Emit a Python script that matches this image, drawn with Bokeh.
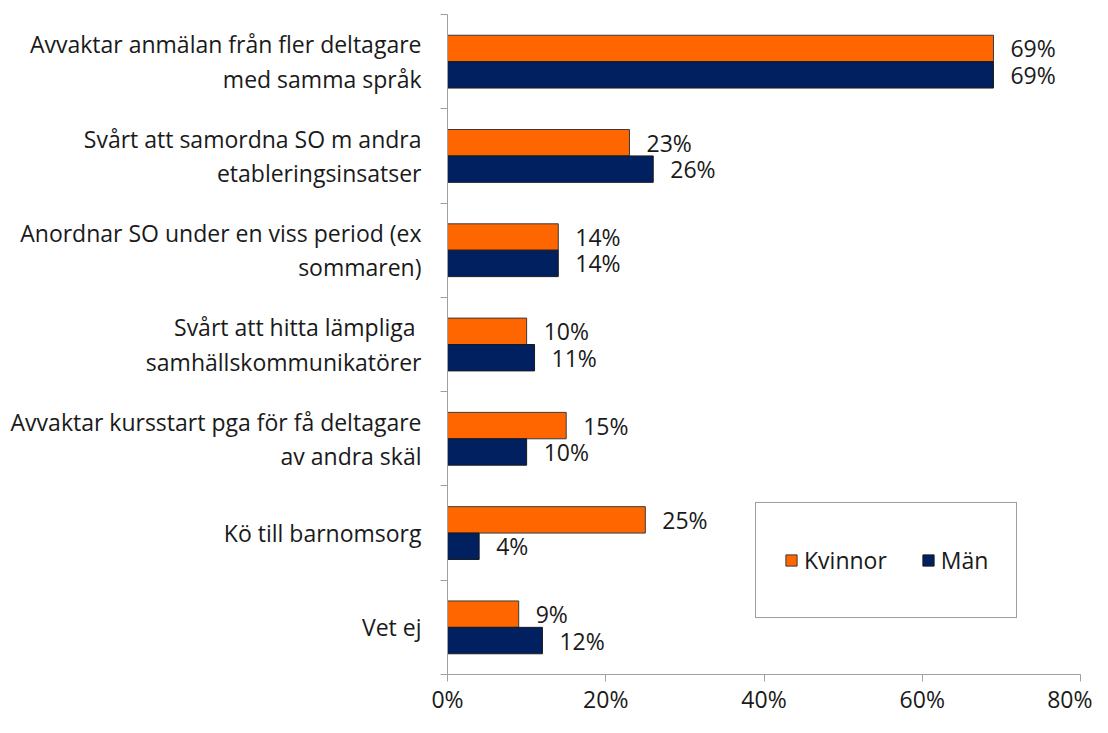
from bokeh.plotting import figure
from bokeh.models import (ColumnDataSource, Legend, LegendItem, FixedTicker,
                          PrintfTickFormatter, Range1d)
from bokeh.transform import dodge
from bokeh.core.properties import value
from bokeh.embed import file_html
from bokeh.resources import INLINE

categories = [
    "Avvaktar anmälan från fler deltagare\nmed samma språk",
    "Svårt att samordna SO m andra\netableringsinsatser",
    "Anordnar SO under en viss period (ex\nsommaren)",
    "Svårt att hitta lämpliga \nsamhällskommunikatörer",
    "Avvaktar kursstart pga för få deltagare\nav andra skäl",
    "Kö till barnomsorg",
    "Vet ej",
]
kvinnor = [69, 23, 14, 10, 15, 25, 9]
man = [69, 26, 14, 11, 10, 4, 12]
series = ["Kvinnor", "Män"]
x_ticks = [0, 20, 40, 60, 80]

FONT = "Open Sans"
FS = "23px"
ORANGE = "#FF6600"
NAVY = "#002060"
AXIS = "#A0A0A0"
TEXT = "#1a1a1a"

n = len(categories)
pos = [n - i - 0.5 for i in range(n)]
src = ColumnDataSource(dict(
    pos=pos, kvinnor=kvinnor, man=man,
    klab=[f"{v}%" for v in kvinnor], mlab=[f"{v}%" for v in man],
))

p = figure(width=1092, height=717, x_range=Range1d(0, 80), y_range=Range1d(0, n),
           output_backend="svg", toolbar_location=None,
           min_border_left=447, min_border_right=12, min_border_top=14, min_border_bottom=30)
p.title.visible = False
p.outline_line_color = None
p.xgrid.grid_line_color = None
p.ygrid.grid_line_color = None

bh = 0.28
r1 = p.hbar(y=dodge("pos", bh / 2), right="kvinnor", left=0, height=bh, source=src,
            fill_color=ORANGE, line_color="#3a3a3a", line_width=1)
r2 = p.hbar(y=dodge("pos", -bh / 2), right="man", left=0, height=bh, source=src,
            fill_color=NAVY, line_color="#1a1a1a", line_width=1)

for col, lab, off in (("kvinnor", "klab", bh / 2), ("man", "mlab", -bh / 2)):
    p.text(x=col, y=dodge("pos", off), text=lab, source=src, x_offset=17,
           text_baseline="middle", text_align="left", text_font=value(FONT),
           text_font_size=FS, text_color=TEXT)

# x axis
xa = p.xaxis[0]
xa.ticker = FixedTicker(ticks=x_ticks)
xa.formatter = PrintfTickFormatter(format="%d%%")
xa.axis_line_color = AXIS
xa.major_tick_line_color = AXIS
xa.major_tick_out = 7
xa.major_tick_in = 0
xa.minor_tick_line_color = None
xa.major_label_standoff = 1
xa.major_label_text_font = FONT
xa.major_label_text_font_size = FS
xa.major_label_text_color = TEXT

# y axis: labels at category centres (no tick), tick marks at boundaries (minor ticks)
ya = p.yaxis[0]
ya.ticker = FixedTicker(ticks=pos, minor_ticks=list(range(n + 1)))
ya.major_label_overrides = {y: cat for y, cat in zip(pos, categories)}
ya.axis_line_color = AXIS
ya.major_tick_line_color = None
ya.major_tick_out = 0
ya.major_tick_in = 0
ya.minor_tick_line_color = AXIS
ya.minor_tick_out = 7
ya.minor_tick_in = 0
ya.major_label_standoff = 19
ya.major_label_text_font = FONT
ya.major_label_text_font_size = FS
ya.major_label_text_color = TEXT
ya.major_label_text_line_height = 1.08

legend = Legend(items=[LegendItem(label=series[0], renderers=[r1]),
                       LegendItem(label=series[1], renderers=[r2])],
                orientation="horizontal", location=(308, 56),
                glyph_width=14, glyph_height=14, label_standoff=6, spacing=34,
                padding=28, label_height=58,
                label_text_font=FONT, label_text_font_size=FS, label_text_color=TEXT,
                border_line_color="#404040", border_line_width=1,
                background_fill_color="white", background_fill_alpha=1)
p.add_layout(legend)

open("out.html", "w").write(file_html(p, INLINE))
